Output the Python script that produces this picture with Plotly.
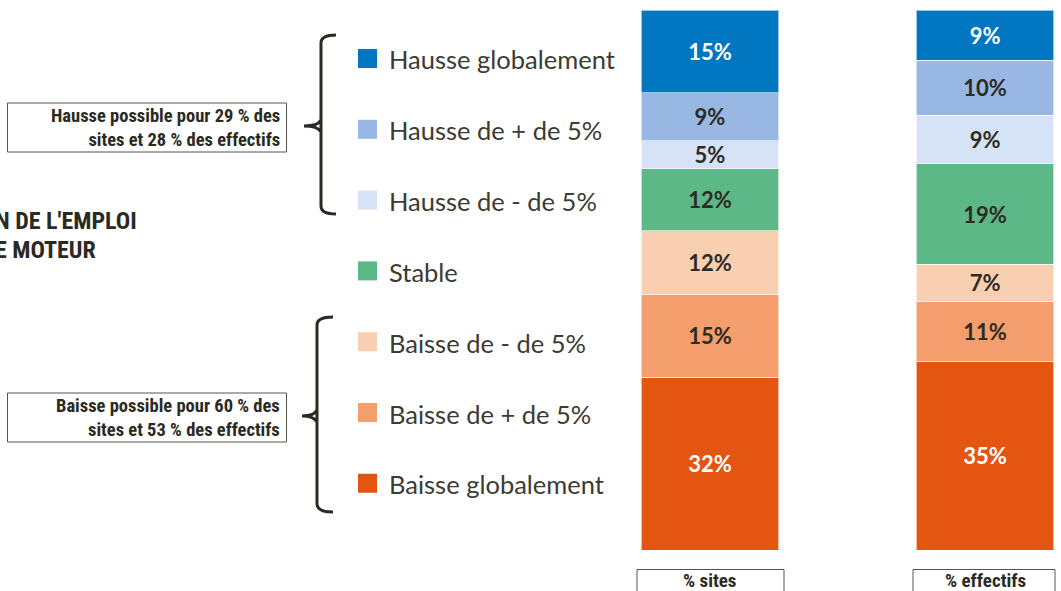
import plotly.graph_objects as go

W, H = 1061, 591

categories = ['% sites', '% effectifs']
series = ['Hausse globalement', 'Hausse de + de 5%', 'Hausse de - de 5%', 'Stable',
          'Baisse de - de 5%', 'Baisse de + de 5%', 'Baisse globalement']
colors = ['#0077c0', '#98b8e3', '#d6e2f5', '#5cb887', '#f9cfb2', '#f39e6c', '#e55512']
label_colors = ['white', '#2d2b24', '#2d2b24', '#2d2b24', '#2d2b24', '#2d2b24', 'white']
sites = [15.3, 8.9, 5.2, 11.5, 11.7, 15.4, 32.0]
effectifs = [9.3, 10.2, 9.0, 18.6, 6.9, 11.1, 34.9]

notes = ['Hausse possible pour 29 % des<br>sites et 28 % des effectifs',
         'Baisse possible pour 60 % des<br>sites et 53 % des effectifs']
title_parts = ["N DE L'EMPLOI", "E MOTEUR"]

dark = '#2b2a22'
cond = 'Liberation Sans Narrow, Roboto Condensed, Open Sans, sans-serif'


def px(x):
    return x / W


def py(y):
    return 1 - y / H


def pt(x, y):
    return f'{px(x):.5f},{py(y):.5f}'


fig = go.Figure()

# stack from the bottom (Baisse globalement) to the top (Hausse globalement)
for i in reversed(range(len(series))):
    fig.add_trace(go.Bar(
        x=categories,
        y=[sites[i], effectifs[i]],
        name=series[i],
        width=0.5,
        marker_color=colors[i],
        marker_line=dict(color='rgba(255,255,255,0.6)', width=1),
        texttemplate='%{y:.0f}%',
        textposition='inside',
        insidetextanchor='middle',
        textangle=0,
        textfont=dict(family='Lato, sans-serif', size=22, color=label_colors[i], weight='bold'),
        showlegend=False,
    ))

shapes = []
annotations = []

# hand-made legend on the left
for i, name in enumerate(series):
    c = 58.5 + i * 70.8
    shapes.append(dict(type='rect', xref='paper', yref='paper',
                       x0=px(358), x1=px(377), y0=py(c + 9.5), y1=py(c - 9.5),
                       fillcolor=colors[i], line_width=0))
    annotations.append(dict(text=name, xref='paper', yref='paper', x=px(387), y=py(c + 1),
                            xanchor='left', yanchor='middle', showarrow=False,
                            font=dict(family='Lato, sans-serif', size=25.5, color='#3c3b33')))

# braces
braces = [(35, 126, 214, 321, 304, 336), (317, 416, 512, 317, 302, 333)]
for top, mid, bot, xv, xt, xh in braces:
    path = ('M' + pt(xh, top) + ' Q' + pt(xv, top) + ' ' + pt(xv, top + 8)
            + ' L' + pt(xv, bot - 8) + ' Q' + pt(xv, bot) + ' ' + pt(xh, bot)
            + ' M' + pt(xt, mid) + ' Q' + pt(xv - 3, mid) + ' ' + pt(xv, mid - 6)
            + ' M' + pt(xt, mid) + ' Q' + pt(xv - 3, mid) + ' ' + pt(xv, mid + 6))
    shapes.append(dict(type='path', xref='paper', yref='paper', path=path,
                       line=dict(color=dark, width=3)))

# note boxes
for note, (y0, y1) in zip(notes, [(103, 152), (393, 442)]):
    shapes.append(dict(type='rect', xref='paper', yref='paper',
                       x0=px(7.5), x1=px(286.5), y0=py(y1), y1=py(y0),
                       line=dict(color='#55554d', width=1), fillcolor='rgba(0,0,0,0)'))
    annotations.append(dict(text=note, xref='paper', yref='paper', x=px(282), y=py((y0 + y1) / 2),
                            xanchor='right', yanchor='middle', align='right', showarrow=False,
                            font=dict(family=cond, size=18.5, color=dark, weight='bold')))

# title, cut by the left edge as in the source
for txt, x, y in zip(title_parts, [139, 98], [221, 250]):
    annotations.append(dict(text=txt, xref='paper', yref='paper', x=px(x), y=py(y),
                            xanchor='right', yanchor='middle', showarrow=False,
                            font=dict(family=cond, size=24, color=dark, weight='bold')))

# category boxes under the bars
for cat, (x0, x1) in zip(categories, [(637, 784), (913, 1055)]):
    shapes.append(dict(type='rect', xref='paper', yref='paper',
                       x0=px(x0), x1=px(x1), y0=py(600), y1=py(569.5),
                       line=dict(color='#55554d', width=1), fillcolor='rgba(0,0,0,0)'))
    annotations.append(dict(text=cat, xref='x', yref='paper', x=cat, y=py(580),
                            xanchor='center', yanchor='middle', showarrow=False,
                            font=dict(family=cond, size=19, color=dark, weight='bold')))

fig.update_layout(
    barmode='stack',
    width=W, height=H,
    margin=dict(l=0, r=0, t=0, b=0),
    paper_bgcolor='white',
    plot_bgcolor='white',
    uniformtext=dict(minsize=22, mode='show'),
    xaxis=dict(domain=[627.4 / W, 1059.3 / W], range=[-0.3, 1.27],
               showticklabels=False, showgrid=False, zeroline=False, showline=False),
    yaxis=dict(domain=[py(550), py(10)], range=[0, 100],
               showticklabels=False, showgrid=False, zeroline=False, showline=False),
    shapes=shapes,
    annotations=annotations,
)

fig.write_html("out.html", config={'displayModeBar': False},
               post_script="document.body.style.margin='0';document.body.style.overflow='hidden';")
